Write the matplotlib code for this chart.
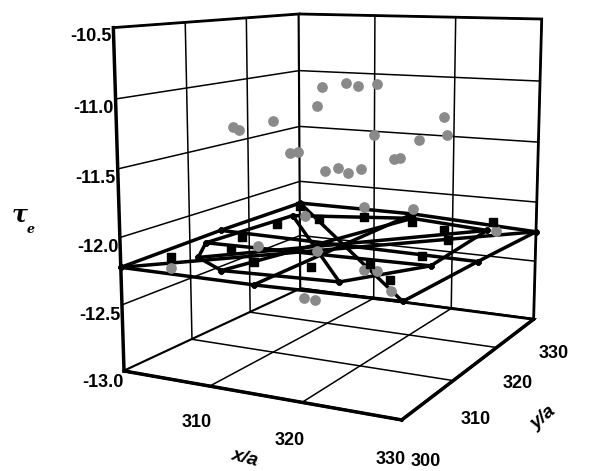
import matplotlib
matplotlib.use('Agg')
import matplotlib.pyplot as plt
import numpy as np

plt.rcParams['axes.unicode_minus'] = False
plt.rcParams['font.family'] = ['Liberation Sans', 'DejaVu Sans']

# mesh nodes (x/a, y/a, tau_e)
mesh_x = [300, 330, 330, 300, 315, 330, 315, 300, 314, 305, 322, 327, 326, 316, 303, 302, 310]
mesh_y = [300, 300, 330, 330, 300, 315, 330, 315, 316, 305, 303, 311, 326, 328, 324, 310, 302]
mesh_z = [-12.22, -12.2, -12.25, -12.2, -12.22, -12.22, -12.2, -12.2, -12.2,
          -12.2, -12.2, -12.2, -12.2, -12.2, -12.2, -12.2, -12.2]
mesh_edges = [(0, 4), (4, 1), (1, 5), (5, 2), (2, 6), (6, 3), (3, 7), (7, 0),
              (0, 2), (1, 3), (4, 6), (5, 7),
              (9, 12), (10, 14), (11, 15), (16, 13),
              (9, 16), (16, 10), (10, 11), (11, 12), (12, 13), (13, 14), (14, 15), (15, 9)]

# black squares
sq_x = [303.2, 306.7, 304.6, 311.4, 304.4, 301.5, 307.4, 317.5, 311.3, 322.0, 326.3, 317.3, 325.0, 322.3, 324.5, 325.4]
sq_y = [303.2, 307.9, 312.4, 305.0, 318.9, 327.8, 322.5, 305.3, 325.5, 308.4, 304.5, 325.5, 313.0, 323.3, 319.7, 329.0]
sq_z = [-12.18] * 16

# gray circles
gr_x = [312.0, 313.5, 315.0, 316.0, 304.1, 305.1, 308.2, 311.5, 307.5, 307.9, 310.6, 310.8, 313.3, 313.5,
        315.8, 319.6, 317.3, 317.5, 320.6, 320.8, 303.2, 307.7, 304.3, 312.6, 318.1, 327.0, 314.1,
        319.7, 320.9, 325.4, 313.4, 314.7]
gr_y = [316.0, 318.0, 318.0, 320.0, 311.9, 311.6, 313.0, 315.8, 316.9, 317.7, 318.7, 321.0, 318.9, 321.1,
        319.9, 322.5, 321.4, 322.3, 326.3, 326.6, 303.2, 310.9, 324.5, 323.4, 324.2, 326.0, 311.6,
        311.3, 311.6, 306.3, 310.4, 310.3]
gr_z = [-11.0, -10.98, -11.0, -10.99, -11.3, -11.32, -11.25, -11.15, -11.55, -11.55, -11.7, -11.7, -11.7, -11.7,
        -11.4, -11.45, -11.6, -11.6, -11.3, -11.45, -12.26, -12.2, -12.2, -12.05, -12.05, -12.2, -12.2,
        -12.3, -12.3, -12.3, -12.55, -12.55]

x_ticks = [310, 320, 330]
y_ticks = [300, 310, 320, 330]
z_ticks = [-13.0, -12.5, -12.0, -11.5, -11.0, -10.5]

fig = plt.figure(figsize=(5.9, 4.71), dpi=100)
ax = fig.add_axes([0.07, 0.09, 1.0, 1.0], projection='3d')
ax.set_proj_type('persp', focal_length=0.5)
ax.view_init(elev=10, azim=-63)
ax.set_box_aspect((1, 1.2, 1.12), zoom=1.15)

for a in (ax.xaxis, ax.yaxis, ax.zaxis):
    a.set_pane_color((1, 1, 1, 1))
    a.pane.set_edgecolor('black')
    a.pane.set_linewidth(2)
    a.line.set_color('black')
    a.line.set_linewidth(2.5)
    a._axinfo['grid']['color'] = 'black'
    a._axinfo['grid']['linewidth'] = 1.1
    a._axinfo['tick']['inward_factor'] = 0.0
    a._axinfo['tick']['outward_factor'] = 0.0
ax.zaxis._axinfo['juggled'] = (1, 2, 0)

ax.set_xlim(300, 330)
ax.set_ylim(300, 330)
ax.set_zlim(-13, -10.5)
ax.set_xticks(x_ticks)
ax.set_yticks(y_ticks)
ax.set_zticks(z_ticks)
ax.set_zticklabels(['%.1f' % v for v in z_ticks])
ax.tick_params(labelsize=13)
ax.xaxis.set_tick_params(pad=3)
ax.yaxis.set_tick_params(pad=6)
ax.zaxis.set_tick_params(pad=0)
for lab in ax.get_xticklabels() + ax.get_yticklabels() + ax.get_zticklabels():
    lab.set_fontweight('bold')

for i, j in mesh_edges:
    ax.plot([mesh_x[i], mesh_x[j]], [mesh_y[i], mesh_y[j]], [mesh_z[i], mesh_z[j]],
            color='black', lw=2.5, marker='o', ms=3.5)
ax.scatter(sq_x, sq_y, sq_z, marker='s', s=30, color='black', depthshade=False)
ax.scatter(gr_x, gr_y, gr_z, marker='o', s=45, color='#8a8a8a', depthshade=False)

fig.text(0.39, 0.01, 'x/a', fontsize=14, fontweight='bold', fontstyle='italic', rotation=-15)
fig.text(0.895, 0.09, 'y/a', fontsize=14, fontweight='bold', fontstyle='italic', rotation=40)
fig.text(0.02, 0.53, 'τ', fontsize=17, fontweight='bold', fontstyle='italic', family='DejaVu Serif')
fig.text(0.045, 0.505, 'e', fontsize=9, fontweight='bold', fontstyle='italic', family='DejaVu Serif')

fig.savefig('out.png', dpi=100)
